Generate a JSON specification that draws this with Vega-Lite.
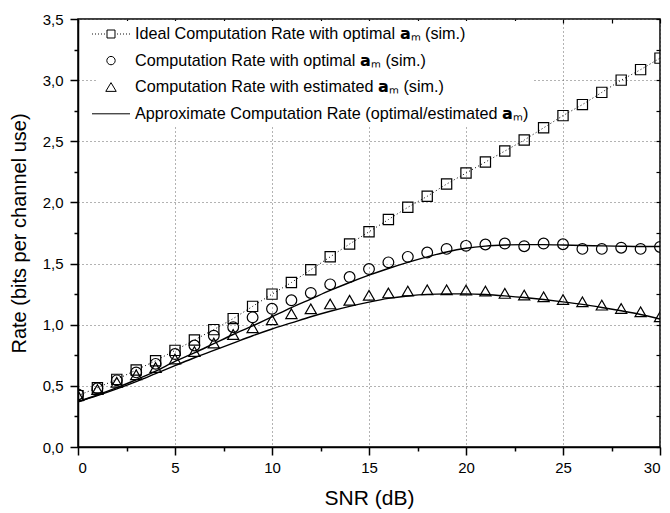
{
  "$schema": "https://vega.github.io/schema/vega-lite/v6.json",
  "autosize": {"type": "none"},
  "padding": {"left": 78, "top": 19, "right": 10, "bottom": 66},
  "width": 582,
  "height": 428,
  "background": "white",
  "config": {
    "view": {"stroke": "black", "strokeWidth": 1.5},
    "font": "Liberation Sans",
    "axis": {"labelFont": "Liberation Sans", "titleFont": "Liberation Sans", "labelColor": "black", "titleColor": "black", "tickColor": "black", "domainColor": "black"}
  },
  "data": {"values": [
    {"snr":0,"rate":0.42,"series":"ideal"},{"snr":1,"rate":0.485,"series":"ideal"},{"snr":2,"rate":0.553,"series":"ideal"},{"snr":3,"rate":0.63,"series":"ideal"},{"snr":4,"rate":0.705,"series":"ideal"},{"snr":5,"rate":0.79,"series":"ideal"},{"snr":6,"rate":0.875,"series":"ideal"},{"snr":7,"rate":0.96,"series":"ideal"},{"snr":8,"rate":1.05,"series":"ideal"},{"snr":9,"rate":1.15,"series":"ideal"},{"snr":10,"rate":1.25,"series":"ideal"},{"snr":11,"rate":1.345,"series":"ideal"},{"snr":12,"rate":1.45,"series":"ideal"},{"snr":13,"rate":1.555,"series":"ideal"},{"snr":14,"rate":1.66,"series":"ideal"},{"snr":15,"rate":1.76,"series":"ideal"},{"snr":16,"rate":1.86,"series":"ideal"},{"snr":17,"rate":1.96,"series":"ideal"},{"snr":18,"rate":2.05,"series":"ideal"},{"snr":19,"rate":2.15,"series":"ideal"},{"snr":20,"rate":2.24,"series":"ideal"},{"snr":21,"rate":2.33,"series":"ideal"},{"snr":22,"rate":2.42,"series":"ideal"},{"snr":23,"rate":2.51,"series":"ideal"},{"snr":24,"rate":2.61,"series":"ideal"},{"snr":25,"rate":2.71,"series":"ideal"},{"snr":26,"rate":2.8,"series":"ideal"},{"snr":27,"rate":2.9,"series":"ideal"},{"snr":28,"rate":3.0,"series":"ideal"},{"snr":29,"rate":3.086,"series":"ideal"},{"snr":30,"rate":3.18,"series":"ideal"},
    {"snr":0,"rate":0.43,"series":"opt"},{"snr":1,"rate":0.48,"series":"opt"},{"snr":2,"rate":0.545,"series":"opt"},{"snr":3,"rate":0.61,"series":"opt"},{"snr":4,"rate":0.68,"series":"opt"},{"snr":5,"rate":0.76,"series":"opt"},{"snr":6,"rate":0.83,"series":"opt"},{"snr":7,"rate":0.91,"series":"opt"},{"snr":8,"rate":0.98,"series":"opt"},{"snr":9,"rate":1.06,"series":"opt"},{"snr":10,"rate":1.13,"series":"opt"},{"snr":11,"rate":1.2,"series":"opt"},{"snr":12,"rate":1.26,"series":"opt"},{"snr":13,"rate":1.33,"series":"opt"},{"snr":14,"rate":1.39,"series":"opt"},{"snr":15,"rate":1.455,"series":"opt"},{"snr":16,"rate":1.51,"series":"opt"},{"snr":17,"rate":1.555,"series":"opt"},{"snr":18,"rate":1.59,"series":"opt"},{"snr":19,"rate":1.62,"series":"opt"},{"snr":20,"rate":1.645,"series":"opt"},{"snr":21,"rate":1.656,"series":"opt"},{"snr":22,"rate":1.664,"series":"opt"},{"snr":23,"rate":1.642,"series":"opt"},{"snr":24,"rate":1.664,"series":"opt"},{"snr":25,"rate":1.658,"series":"opt"},{"snr":26,"rate":1.62,"series":"opt"},{"snr":27,"rate":1.62,"series":"opt"},{"snr":28,"rate":1.63,"series":"opt"},{"snr":29,"rate":1.62,"series":"opt"},{"snr":30,"rate":1.636,"series":"opt"},
    {"snr":0,"rate":0.42,"series":"est"},{"snr":1,"rate":0.47,"series":"est"},{"snr":2,"rate":0.53,"series":"est"},{"snr":3,"rate":0.59,"series":"est"},{"snr":4,"rate":0.65,"series":"est"},{"snr":5,"rate":0.72,"series":"est"},{"snr":6,"rate":0.78,"series":"est"},{"snr":7,"rate":0.85,"series":"est"},{"snr":8,"rate":0.92,"series":"est"},{"snr":9,"rate":0.975,"series":"est"},{"snr":10,"rate":1.04,"series":"est"},{"snr":11,"rate":1.09,"series":"est"},{"snr":12,"rate":1.13,"series":"est"},{"snr":13,"rate":1.17,"series":"est"},{"snr":14,"rate":1.2,"series":"est"},{"snr":15,"rate":1.24,"series":"est"},{"snr":16,"rate":1.26,"series":"est"},{"snr":17,"rate":1.275,"series":"est"},{"snr":18,"rate":1.285,"series":"est"},{"snr":19,"rate":1.285,"series":"est"},{"snr":20,"rate":1.283,"series":"est"},{"snr":21,"rate":1.275,"series":"est"},{"snr":22,"rate":1.256,"series":"est"},{"snr":23,"rate":1.242,"series":"est"},{"snr":24,"rate":1.228,"series":"est"},{"snr":25,"rate":1.206,"series":"est"},{"snr":26,"rate":1.187,"series":"est"},{"snr":27,"rate":1.16,"series":"est"},{"snr":28,"rate":1.133,"series":"est"},{"snr":29,"rate":1.105,"series":"est"},{"snr":30,"rate":1.065,"series":"est"},
    {"snr":0,"rate":0.37,"series":"approx","curve":"optimal"},{"snr":1,"rate":0.425,"series":"approx","curve":"optimal"},{"snr":2,"rate":0.485,"series":"approx","curve":"optimal"},{"snr":3,"rate":0.55,"series":"approx","curve":"optimal"},{"snr":4,"rate":0.62,"series":"approx","curve":"optimal"},{"snr":5,"rate":0.7,"series":"approx","curve":"optimal"},{"snr":6,"rate":0.77,"series":"approx","curve":"optimal"},{"snr":7,"rate":0.845,"series":"approx","curve":"optimal"},{"snr":8,"rate":0.92,"series":"approx","curve":"optimal"},{"snr":9,"rate":0.99,"series":"approx","curve":"optimal"},{"snr":10,"rate":1.065,"series":"approx","curve":"optimal"},{"snr":11,"rate":1.14,"series":"approx","curve":"optimal"},{"snr":12,"rate":1.21,"series":"approx","curve":"optimal"},{"snr":13,"rate":1.28,"series":"approx","curve":"optimal"},{"snr":14,"rate":1.345,"series":"approx","curve":"optimal"},{"snr":15,"rate":1.405,"series":"approx","curve":"optimal"},{"snr":16,"rate":1.46,"series":"approx","curve":"optimal"},{"snr":17,"rate":1.51,"series":"approx","curve":"optimal"},{"snr":18,"rate":1.555,"series":"approx","curve":"optimal"},{"snr":19,"rate":1.595,"series":"approx","curve":"optimal"},{"snr":20,"rate":1.625,"series":"approx","curve":"optimal"},{"snr":21,"rate":1.643,"series":"approx","curve":"optimal"},{"snr":22,"rate":1.652,"series":"approx","curve":"optimal"},{"snr":23,"rate":1.655,"series":"approx","curve":"optimal"},{"snr":24,"rate":1.655,"series":"approx","curve":"optimal"},{"snr":25,"rate":1.652,"series":"approx","curve":"optimal"},{"snr":26,"rate":1.648,"series":"approx","curve":"optimal"},{"snr":27,"rate":1.645,"series":"approx","curve":"optimal"},{"snr":28,"rate":1.642,"series":"approx","curve":"optimal"},{"snr":29,"rate":1.64,"series":"approx","curve":"optimal"},{"snr":30,"rate":1.64,"series":"approx","curve":"optimal"},
    {"snr":0,"rate":0.37,"series":"approx","curve":"estimated"},{"snr":1,"rate":0.42,"series":"approx","curve":"estimated"},{"snr":2,"rate":0.475,"series":"approx","curve":"estimated"},{"snr":3,"rate":0.535,"series":"approx","curve":"estimated"},{"snr":4,"rate":0.6,"series":"approx","curve":"estimated"},{"snr":5,"rate":0.665,"series":"approx","curve":"estimated"},{"snr":6,"rate":0.73,"series":"approx","curve":"estimated"},{"snr":7,"rate":0.79,"series":"approx","curve":"estimated"},{"snr":8,"rate":0.85,"series":"approx","curve":"estimated"},{"snr":9,"rate":0.91,"series":"approx","curve":"estimated"},{"snr":10,"rate":0.965,"series":"approx","curve":"estimated"},{"snr":11,"rate":1.015,"series":"approx","curve":"estimated"},{"snr":12,"rate":1.065,"series":"approx","curve":"estimated"},{"snr":13,"rate":1.11,"series":"approx","curve":"estimated"},{"snr":14,"rate":1.15,"series":"approx","curve":"estimated"},{"snr":15,"rate":1.185,"series":"approx","curve":"estimated"},{"snr":16,"rate":1.215,"series":"approx","curve":"estimated"},{"snr":17,"rate":1.235,"series":"approx","curve":"estimated"},{"snr":18,"rate":1.248,"series":"approx","curve":"estimated"},{"snr":19,"rate":1.252,"series":"approx","curve":"estimated"},{"snr":20,"rate":1.252,"series":"approx","curve":"estimated"},{"snr":21,"rate":1.247,"series":"approx","curve":"estimated"},{"snr":22,"rate":1.236,"series":"approx","curve":"estimated"},{"snr":23,"rate":1.222,"series":"approx","curve":"estimated"},{"snr":24,"rate":1.206,"series":"approx","curve":"estimated"},{"snr":25,"rate":1.187,"series":"approx","curve":"estimated"},{"snr":26,"rate":1.166,"series":"approx","curve":"estimated"},{"snr":27,"rate":1.141,"series":"approx","curve":"estimated"},{"snr":28,"rate":1.114,"series":"approx","curve":"estimated"},{"snr":29,"rate":1.084,"series":"approx","curve":"estimated"},{"snr":30,"rate":1.046,"series":"approx","curve":"estimated"}
  ]},
  "layer": [
    {
      "transform": [{"filter": "datum.series === 'ideal'"}],
      "mark": {"type": "line", "color": "black", "strokeWidth": 1, "strokeDash": [1, 2.5], "clip": true},
      "encoding": {
        "x": {"field": "snr", "type": "quantitative", "scale": {"domain": [0, 30], "nice": false},
          "axis": {"orient": "bottom", "values": [0, 5, 10, 15, 20, 25, 30], "title": "SNR (dB)", "titleFontSize": 21, "titleFontWeight": "normal", "titlePadding": 12,
            "labelFontSize": 15, "labelPadding": 5, "tickSize": 8, "tickWidth": 1.5, "domainWidth": 1.5,
            "grid": true, "gridColor": "#666666", "gridDash": [1, 3], "gridWidth": 1}},
        "y": {"field": "rate", "type": "quantitative", "scale": {"domain": [0, 3.5], "nice": false, "zero": true},
          "axis": {"orient": "left", "values": [0, 0.5, 1, 1.5, 2, 2.5, 3, 3.5], "title": "Rate (bits per channel use)", "titleFontSize": 20, "titleFontWeight": "normal", "titlePadding": 13,
            "labelFontSize": 15, "labelPadding": 7, "tickSize": 8, "tickWidth": 1.5, "domainWidth": 1.5,
            "labelExpr": "replace(format(datum.value, '.1f'), '.', ',')",
            "grid": true, "gridColor": "#666666", "gridDash": [1, 3], "gridWidth": 1}}
      }
    },
    {
      "transform": [{"filter": "datum.series === 'approx'"}],
      "mark": {"type": "line", "color": "black", "strokeWidth": 1.4, "interpolate": "monotone", "clip": true},
      "encoding": {
        "x": {"field": "snr", "type": "quantitative", "scale": {"domain": [0, 30], "nice": false}, "axis": null},
        "y": {"field": "rate", "type": "quantitative", "scale": {"domain": [0, 3.5], "nice": false}, "axis": null},
        "detail": {"field": "curve"}
      }
    },
    {
      "transform": [{"filter": "datum.series !== 'approx'"}],
      "mark": {"type": "point", "filled": false, "color": "black", "strokeWidth": 1.2, "opacity": 1, "clip": true},
      "encoding": {
        "x": {"field": "snr", "type": "quantitative", "scale": {"domain": [0, 30], "nice": false},
          "axis": {"orient": "top", "values": [0, 2.5, 5, 7.5, 10, 12.5, 15, 17.5, 20, 22.5, 25, 27.5, 30], "labels": false, "domain": false, "grid": false, "title": null, "tickSize": -4, "tickWidth": 1.2}},
        "y": {"field": "rate", "type": "quantitative", "scale": {"domain": [0, 3.5], "nice": false},
          "axis": {"orient": "right", "values": [0, 0.25, 0.5, 0.75, 1, 1.25, 1.5, 1.75, 2, 2.25, 2.5, 2.75, 3, 3.25, 3.5], "labels": false, "domain": false, "grid": false, "title": null, "tickSize": -4, "tickWidth": 1.2}},
        "shape": {"field": "series", "type": "nominal", "scale": {"domain": ["ideal", "opt", "est"], "range": ["square", "circle", "triangle-up"]}, "legend": null},
        "size": {"field": "series", "type": "nominal", "scale": {"domain": ["ideal", "opt", "est"], "range": [105, 125, 150]}, "legend": null}
      }
    },
    {
      "mark": {"type": "point", "filled": false, "color": "black", "opacity": 0, "size": 361},
      "encoding": {
        "x": {"field": "snr", "type": "quantitative", "scale": {"domain": [0, 30], "nice": false},
          "axis": {"orient": "bottom", "values": [2.5, 7.5, 12.5, 17.5, 22.5, 27.5], "labels": false, "domain": false, "grid": false, "title": null, "tickSize": 4, "tickWidth": 1.5}},
        "y": {"field": "rate", "type": "quantitative", "scale": {"domain": [0, 3.5], "nice": false},
          "axis": {"orient": "left", "values": [0.25, 0.75, 1.25, 1.75, 2.25, 2.75, 3.25], "labels": false, "domain": false, "grid": false, "title": null, "tickSize": 4, "tickWidth": 1.5}},
        "shape": {"field": "series", "type": "nominal",
          "scale": {"domain": ["ideal", "opt", "est", "approx"],
            "range": [
              "M-2,0h0.1M-1.68,0h0.1M-1.37,0h0.1M-1.05,0h0.1M-0.74,0h0.1M-0.42,-0.42h0.84v0.84h-0.84zM0.64,0h0.1M0.95,0h0.1M1.27,0h0.1M1.58,0h0.1M1.9,0h0.1",
              "M0.44,0A0.44,0.44,0,1,1,-0.44,0A0.44,0.44,0,1,1,0.44,0Z",
              "M0,-0.48L0.55,0.44L-0.55,0.44Z",
              "M-2,0H2"
            ]},
          "legend": {
            "orient": "none", "legendX": 20, "legendY": 2, "title": null, "padding": 3,
            "fillColor": "white", "strokeColor": null,
            "labelFont": "Liberation Sans", "labelFontSize": 16.2, "labelColor": "black", "labelOffset": 14, "labelLimit": 600,
            "rowPadding": 7.6, "symbolSize": 361, "symbolStrokeColor": "black", "symbolStrokeWidth": 1, "symbolFillColor": "transparent", "symbolOpacity": 1,
            "labelExpr": "datum.value === 'ideal' ? 'Ideal Computation Rate with optimal 𝗮ₘ (sim.)' : datum.value === 'opt' ? 'Computation Rate with optimal 𝗮ₘ (sim.)' : datum.value === 'est' ? 'Computation Rate with estimated 𝗮ₘ (sim.)' : 'Approximate Computation Rate (optimal/estimated 𝗮ₘ)'",
            "encode": {"symbols": {"update": {"opacity": {"value": 1}, "stroke": {"value": "black"}, "fill": {"value": "transparent"}, "strokeWidth": {"value": 1}}}}
          }
        }
      }
    }
  ],
  "resolve": {
    "axis": {"x": "independent", "y": "independent"},
    "scale": {"shape": "independent", "size": "independent"},
    "legend": {"shape": "independent", "size": "independent"}
  }
}
